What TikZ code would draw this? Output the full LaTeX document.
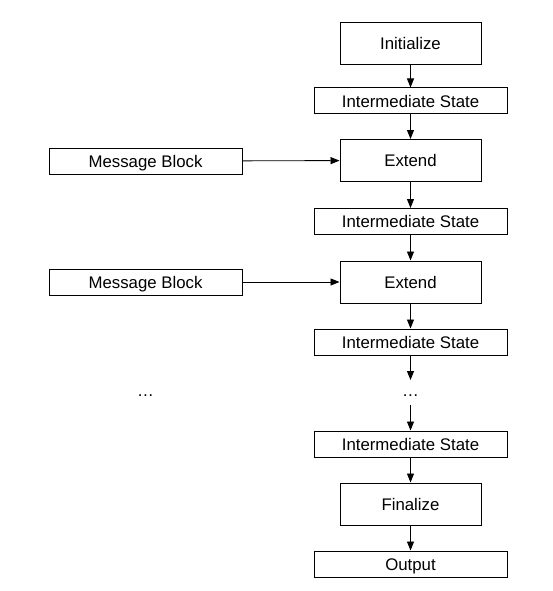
\documentclass[tikz,border=0pt]{standalone}
\usepackage{fontspec}
\setmainfont{Liberation Sans}
\usetikzlibrary{arrows.meta}
\begin{document}
\begin{tikzpicture}[x=1pt,y=-1pt,
  every node/.style={font=\fontsize{16.8}{18}\selectfont, inner sep=0pt, text depth=0pt, text height=12pt},
  bigbox/.style={draw=black, line width=1pt, minimum width=141pt, minimum height=42pt},
  widebox/.style={draw=black, line width=1pt, minimum width=193pt, minimum height=26pt},
  arr/.style={line width=0.9pt, -{Triangle[length=9pt,width=7pt]}}]
\useasboundingbox (0,0) rectangle (553,591);
\node[bigbox] (init) at (410.5,43.5) {Initialize};
\node[widebox] (is1) at (410.5,101) {Intermediate State};
\node[bigbox] (ext1) at (410.5,160.5) {Extend};
\node[widebox] (mb1) at (145.5,161) {Message Block};
\node[widebox] (is2) at (410.5,221.5) {Intermediate State};
\node[bigbox] (ext2) at (410.5,282) {Extend};
\node[widebox] (mb2) at (145.5,282) {Message Block};
\node[widebox] (is3) at (410.5,342) {Intermediate State};
\node (dots) at (410.5,390) {\dots};
\node (dotsl) at (145.5,390) {\dots};
\coordinate (dtop) at (410.5,380);
\coordinate (dbot) at (410.5,405);
\node[widebox] (is4) at (410.5,444) {Intermediate State};
\node[bigbox] (fin) at (410.5,504) {Finalize};
\node[widebox] (out) at (410.5,564) {Output};
\draw[arr] (init) -- (is1);
\draw[arr] (is1) -- (ext1);
\draw[arr] (mb1) -- (ext1);
\draw[arr] (ext1) -- (is2);
\draw[arr] (is2) -- (ext2);
\draw[arr] (mb2) -- (ext2);
\draw[arr] (ext2) -- (is3);
\draw[arr] (is3.south) -- (dtop);
\draw[arr] (dbot) -- (is4.north);
\draw[arr] (is4) -- (fin);
\draw[arr] (fin) -- (out);
\end{tikzpicture}
\end{document}
